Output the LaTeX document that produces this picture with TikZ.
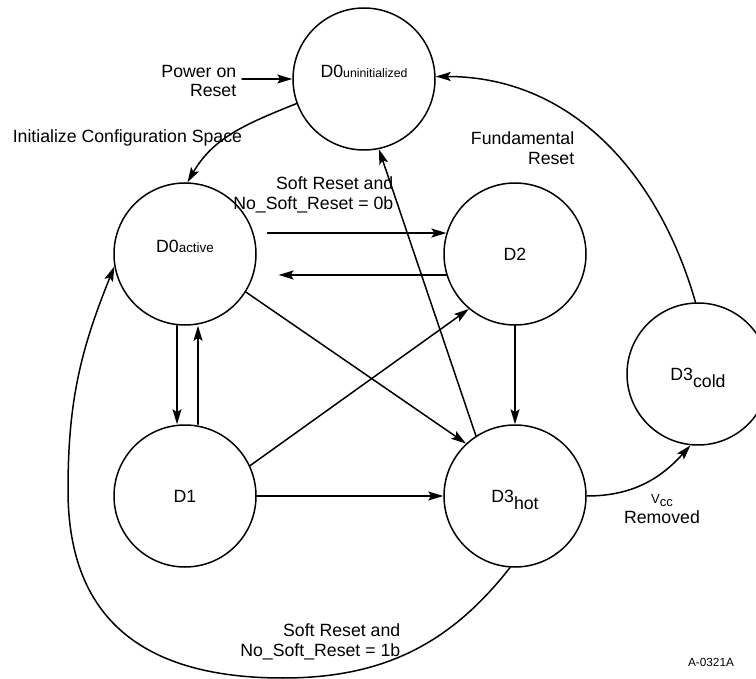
\documentclass[tikz,border=0pt]{standalone}
\usepackage{fontspec}
\setmainfont{Liberation Sans}
\usetikzlibrary{arrows.meta}
\tikzset{
  every picture/.style={line join=round, line cap=round, >={Stealth[length=15pt,width=9pt,inset=3pt]}},
  state/.style={draw, circle, minimum size=142pt, inner sep=0pt, text height=12.7pt, text depth=0pt},
  lbl/.style={inner sep=0pt, align=right},
}
\newcommand{\lowsub}[1]{\raisebox{-6.7pt}{#1}}
\newcommand{\smallsub}[2]{{\fontsize{#1}{#1}\selectfont #2}}

\begin{document}
\begin{tikzpicture}[x=1pt, y=1pt, line width=1.5pt, font=\fontsize{17.7}{20}\selectfont]
\useasboundingbox (0,0) rectangle (756,-679);
% states
\node[state] (d0u) at (364,-79) {\raisebox{7.5pt}{D0\smallsub{12.3}{uninitialized}}};
\node[state] (d0a) at (185,-254) {\raisebox{7.5pt}{D0\smallsub{13.4}{active}}};
\node[state] (d2) at (515,-254) {D2};
\node[state] (d1) at (185,-496) {D1};
\node[state] (d3h) at (515,-496) {D3\lowsub{hot}};
\node[state] (d3c) at (698,-374) {D3\lowsub{cold}};
\coordinate (pwr) at (242,-79);
\coordinate (lowpt) at (283,-678);
\coordinate (leftpt) at (68,-490);
% transitions
\draw[->] (pwr) -- (d0u.west);
\draw[->] (d0u.200) to[out=202, in=60] (d0a.88);
\draw[->, shorten <=14pt] (d0a.17) -- (d2.163);
\draw[->, shorten >=25pt] (d2.197) -- (d0a.343);
\draw[->] ([xshift=-8pt]d0a.south) -- ([xshift=-8pt]d1.north);
\draw[->] ([xshift=13pt]d1.north) -- ([xshift=13pt]d0a.south);
\draw[->] (d0a.-32) -- (d3h.133);
\draw[->] (d1.25) -- (d2.230);
\draw[->] (d1.east) -- (d3h.west);
\draw[->] (d2.south) -- (d3h.north);
\draw[->] (d3h.123) -- (d0u.282);
\draw[->] (d3c.92) to[out=106, in=0] (d0u.2);
\draw[->] (d3h.east) to[out=0, in=228] (d3c.264);
\draw[->] (d3h.266) to[out=232, in=0] (lowpt) to[out=180, in=-90, looseness=1.2] (leftpt) to[out=90, in=248] (d0a.190);
% labels
\node[lbl, anchor=east] (pwrlbl) at (237,-81) {Power on\\[-2pt]Reset};
\node[lbl, anchor=west] (initlbl) at (12,-138) {Initialize Configuration Space};
\node[lbl, anchor=east] (soft0) at (394,-195) {Soft Reset and\\No\_Soft\_Reset = 0b};
\node[lbl, anchor=east] (fundlbl) at (575,-148) {Fundamental\\Reset};
\node[lbl, anchor=east] (soft1) at (401,-642) {Soft Reset and\\No\_Soft\_Reset = 1b};
\node[inner sep=0pt, align=center] (vcc) at (662,-509) {{\fontsize{13}{13}\selectfont V\raisebox{-3pt}{cc}}\\Removed};
\node[inner sep=0pt] (tag) at (711,-662) {\fontsize{11.8}{12}\selectfont A-0321A};
\end{tikzpicture}
\end{document}
